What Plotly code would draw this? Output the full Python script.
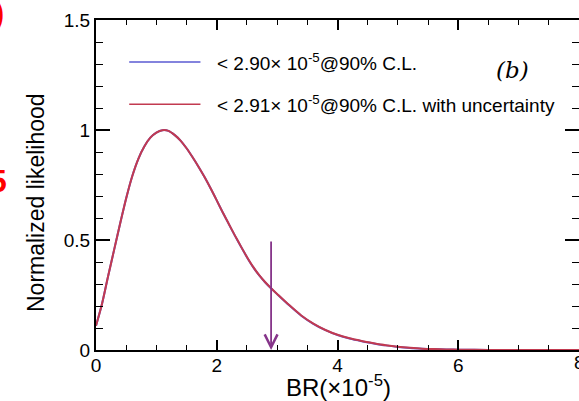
import plotly.graph_objects as go

# --- data ---
br = [0.0, 0.1, 0.2, 0.3, 0.4, 0.5, 0.6, 0.7, 0.8, 0.9, 1.0, 1.1, 1.2, 1.3, 1.4, 1.5,
      1.6, 1.7, 1.8, 1.9, 2.0, 2.1, 2.2, 2.3, 2.4, 2.5, 2.6, 2.7, 2.8, 2.9, 3.0,
      3.2, 3.4, 3.6, 3.8, 4.0, 4.2, 4.4, 4.6, 4.8, 5.0, 5.2, 5.4, 5.6, 5.8, 6.0,
      6.5, 7.0, 7.5, 8.0]
like_stat = [0.11, 0.21, 0.335, 0.455, 0.575, 0.69, 0.79, 0.868, 0.925, 0.965, 0.988,
             0.999, 0.996, 0.978, 0.952, 0.917, 0.876, 0.832, 0.785, 0.734, 0.68,
             0.625, 0.572, 0.52, 0.47, 0.422, 0.378, 0.34, 0.308, 0.28, 0.254,
             0.203, 0.156, 0.119, 0.09, 0.068, 0.052, 0.04, 0.03, 0.021, 0.014,
             0.009, 0.006, 0.004, 0.0025, 0.0015, 0.0005, 0.0, 0.0, 0.0]
like_syst = [0.11, 0.21, 0.335, 0.455, 0.575, 0.69, 0.79, 0.868, 0.925, 0.965, 0.988,
             0.999, 0.996, 0.978, 0.952, 0.917, 0.876, 0.832, 0.785, 0.734, 0.68,
             0.625, 0.573, 0.521, 0.471, 0.423, 0.379, 0.341, 0.309, 0.281, 0.255,
             0.204, 0.157, 0.12, 0.091, 0.069, 0.053, 0.041, 0.031, 0.022, 0.015,
             0.01, 0.006, 0.004, 0.0025, 0.0015, 0.0005, 0.0, 0.0, 0.0]
upper_limit = 2.90
arrow_top = 0.5
legend_labels = ["&lt; 2.90× 10<sup>-5</sup>@90% C.L.",
                 "&lt; 2.91× 10<sup>-5</sup>@90% C.L. with uncertainty"]
x_ticks = [0, 2, 4, 6, 8]
y_ticks = [0, 0.5, 1, 1.5]
y_ticklabels = ["0", "0.5", "1", "1.5"]
x_title = "BR(×10<sup>-5</sup>)"
y_title = "Normalized likelihood"

blue = "#5a5ad2"
red = "#c23a50"
purple = "#86358a"
FONT = "Liberation Sans, Arial"

fig = go.Figure()
fig.add_trace(go.Scatter(x=br, y=like_stat, mode="lines",
                         line=dict(color=blue, width=2, shape="spline", smoothing=0.8),
                         showlegend=False))
fig.add_trace(go.Scatter(x=br, y=like_syst, mode="lines",
                         line=dict(color=red, width=2, shape="spline", smoothing=0.8),
                         showlegend=False))

# arrow at the upper limit
fig.add_annotation(x=upper_limit, y=0, ax=upper_limit, ay=arrow_top, xref="x", yref="y",
                   axref="x", ayref="y", showarrow=True, arrowhead=5, arrowsize=1.4,
                   arrowwidth=1.8, arrowcolor=purple, text="")

# manual legend
leg_y = [0.873, 0.745]
for lab, col, yy in zip(legend_labels, [blue, red], leg_y):
    fig.add_shape(type="line", xref="x", yref="paper", x0=0.55, x1=1.73, y0=yy, y1=yy,
                  line=dict(color=col, width=1.5))
    fig.add_annotation(x=1.97, y=yy, xref="x", yref="paper", text=lab, showarrow=False,
                       xanchor="left", yanchor="middle",
                       font=dict(family=FONT, size=19, color="black"))

fig.add_annotation(x=6.9, y=0.848, xref="x", yref="paper", text="<i>(b)</i>", showarrow=False,
                   xanchor="center", yanchor="middle",
                   font=dict(family="DejaVu Serif, Liberation Serif", size=23, color="black"))

# x tick label "8" cut at the right edge
fig.add_annotation(x=8, y=0, xref="x", yref="y", text="8", showarrow=False,
                   xanchor="center", yanchor="top", yshift=0,
                   font=dict(family=FONT, size=19, color="black"))

# axis titles (placed as in the reference)
fig.add_annotation(x=(338 - 96) / 483, y=-(386 - 350) / 330, xref="paper", yref="paper",
                   text=x_title, showarrow=False, xanchor="center", yanchor="middle",
                   font=dict(family=FONT, size=24, color="black"))
fig.add_annotation(x=-(96 - 36) / 483, y=(350 - 203) / 330, xref="paper", yref="paper",
                   text=y_title, textangle=-90, showarrow=False, xanchor="center",
                   yanchor="middle", font=dict(family=FONT, size=23, color="black"))

# cropped red fragments at the left edge (from neighbouring panel)
fig.add_annotation(x=(6 - 96) / 483, y=1 + 8 / 330, xref="paper", yref="paper",
                   xanchor="right", yanchor="middle", text="<b>)</b>", showarrow=False,
                   font=dict(family=FONT, size=34, color="red"))
fig.add_annotation(x=(9 - 96) / 483, y=(350 - 181) / 330, xref="paper", yref="paper",
                   xanchor="right", yanchor="middle", text="<b>5</b>", showarrow=False,
                   font=dict(family=FONT, size=32, color="red"))

axis_common = dict(showline=True, linecolor="black", linewidth=2, mirror="ticks",
                   ticks="inside", tickcolor="black", showgrid=False, zeroline=False,
                   tickfont=dict(family=FONT, size=19, color="black"))

fig.update_xaxes(range=[0, 8], tickvals=x_ticks, ticktext=[str(v) for v in x_ticks],
                 ticklen=10, tickwidth=1.5, ticklabelstandoff=-3,
                 minor=dict(dtick=0.5, tick0=0, ticks="inside", ticklen=5, tickcolor="black", tickwidth=1.2),
                 **axis_common)
fig.update_yaxes(range=[0, 1.5], tickvals=y_ticks, ticktext=y_ticklabels,
                 ticklen=14, tickwidth=1.5,
                 minor=dict(dtick=0.1, tick0=0, ticks="inside", ticklen=7, tickcolor="black", tickwidth=1.2),
                 **axis_common)

fig.update_layout(width=579, height=401, margin=dict(l=96, r=0, t=20, b=51, autoexpand=False),
                  plot_bgcolor="white", paper_bgcolor="white")

fig.write_html("out.html")
